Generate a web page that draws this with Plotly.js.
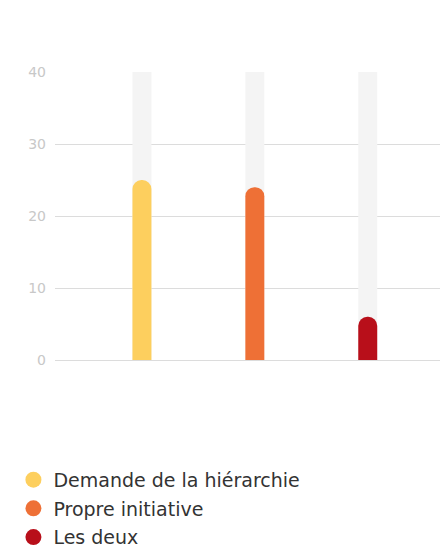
<!DOCTYPE html>
<html><head><meta charset="utf-8">
<script src="https://cdn.plot.ly/plotly-3.0.1.min.js"></script>
<style>html,body{margin:0;padding:0;background:#fff}#chart{width:440px;height:551px}</style>
</head><body><div id="chart"></div>
<script>
const categories = ["Demande de la hiérarchie", "Propre initiative", "Les deux"];
const values = [25, 24, 6];
const maxValue = [40, 40, 40];
const colors = ["#FDCF5E", "#EE7036", "#B80F1A"];
const yTicks = [0, 10, 20, 30, 40];

const xs = categories.map((_, i) => i);
const traces = [];
traces.push({
  type: "bar", x: xs, y: maxValue, width: 0.168,
  marker: {color: "#f4f4f4"}, showlegend: false, hoverinfo: "skip"
});
traces.push({
  type: "bar", x: xs, y: values, width: 0.168, xaxis: "x2", text: categories, textposition: "none",
  marker: {color: colors, cornerradius: "50%"}, showlegend: false
});
categories.forEach((c, i) => {
  traces.push({
    type: "scatter", mode: "markers", x: [null], y: [null], name: c,
    legendgroup: "g" + i,
    marker: {color: colors[i], size: 18, symbol: "circle"}
  });
});

const xr = [-0.77, 2.64];
const layout = {
  width: 440, height: 551,
  margin: {l: 55, r: 0, t: 72, b: 191, autoexpand: false},
  barmode: "group",
  paper_bgcolor: "#fff", plot_bgcolor: "#fff",
  font: {family: "'DejaVu Sans', sans-serif"},
  xaxis: {range: xr, showticklabels: false, showgrid: false, zeroline: false, fixedrange: true},
  xaxis2: {range: xr, overlaying: "x", showticklabels: false, showgrid: false, zeroline: false, fixedrange: true},
  yaxis: {range: [0, 40], tickvals: yTicks, gridcolor: "#dcdcdc", gridwidth: 1,
    zeroline: true, zerolinecolor: "#dcdcdc", zerolinewidth: 1,
    tickfont: {size: 14, color: "#c8c8c8"}, ticklabelstandoff: 8, fixedrange: true},
  legend: {x: -0.108, xanchor: "left", y: -0.35, yanchor: "top", orientation: "v",
    font: {size: 19, color: "#333"}, tracegroupgap: 1, itemsizing: "trace", bgcolor: "rgba(0,0,0,0)"},
  showlegend: true
};
Plotly.newPlot("chart", traces, layout, {displayModeBar: false, staticPlot: true});
</script></body></html>
